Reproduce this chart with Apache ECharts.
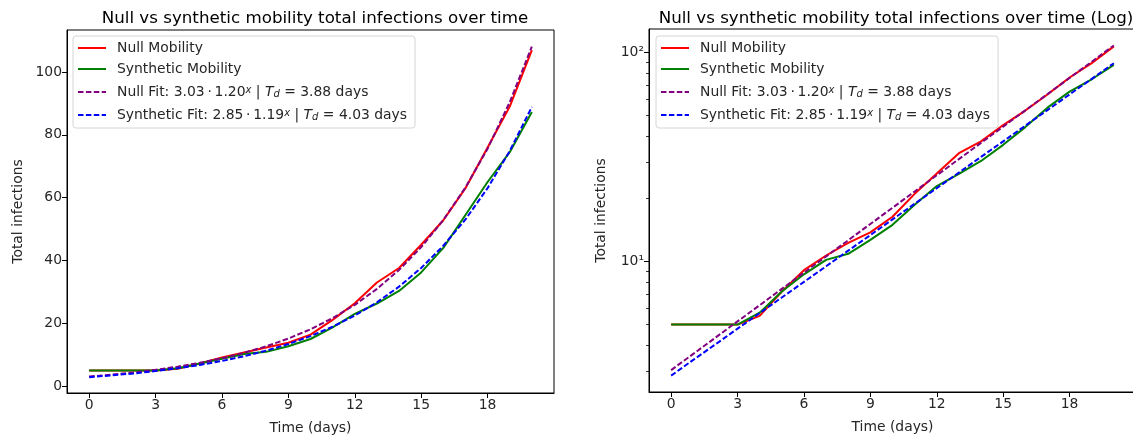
<!DOCTYPE html>
<html>

	<head>
		<meta charset="utf-8">
		<title>Null vs synthetic mobility total infections over time</title>
		<style>
			html, body { margin: 0; padding: 0; background: #fff; }
			#chart { width: 1133px; height: 440px; }
		</style>
	</head>

	<body>
		<div id="chart"></div>
	</body>
	<script src="https://cdn.jsdelivr.net/npm/echarts@6/dist/echarts.min.js"></script>
	<script>
		// days on the x axis
		var days = [0, 1, 2, 3, 4, 5, 6, 7, 8, 9, 10, 11, 12, 13, 14, 15, 16, 17, 18, 19, 20];
		// simulated totals
		var nullMobility = [5, 5, 5, 5, 5.5, 7.2, 9.1, 10.7, 12.3, 13.8, 16.4, 21.1, 26.4, 33, 37.6, 45, 52.8, 63, 76, 89, 107];
		var syntheticMobility = [5, 5, 5, 5, 5.7, 7.2, 8.7, 10.2, 10.9, 12.7, 15, 18.7, 23, 26.3, 30.3, 36.2, 44, 54.5, 65, 74.5, 87.3];
		// exponential fit curves
		var nullFit = [3.03, 3.62, 4.33, 5.18, 6.19, 7.41, 8.86, 10.59, 12.66, 15.14, 18.1, 21.64, 25.88, 30.94, 37, 44.24, 52.9, 63.25, 75.62, 90.42, 108.12];
		var syntheticFit = [2.85, 3.39, 4.02, 4.78, 5.67, 6.74, 8, 9.5, 11.29, 13.4, 15.92, 18.91, 22.46, 26.67, 31.68, 37.62, 44.69, 53.07, 63.04, 74.87, 88.92];
		// ticks
		var xTicks = [0, 3, 6, 9, 12, 15, 18];
		var yTicks = [0, 20, 40, 60, 80, 100];
		var logTicks = [10, 100];
		var logMinorTicks = [3, 4, 5, 6, 7, 8, 9, 20, 30, 40, 50, 60, 70, 80, 90];

		var FONT = 'DejaVu Sans';
		var seriesNames = ['Null Mobility', 'Synthetic Mobility', 'Null Fit', 'Synthetic Fit'];
		var legendText = {
			'Null Mobility': 'Null Mobility',
			'Synthetic Mobility': 'Synthetic Mobility',
			'Null Fit': 'Null Fit: 3.03\u2009·\u20091.20{sup|x} | {it|T}{sub|d} = 3.88 days',
			'Synthetic Fit': 'Synthetic Fit: 2.85\u2009·\u20091.19{sup|x} | {it|T}{sub|d} = 4.03 days'
		};

		function pairs(ys) {
			return days.map(function(d, i) {
				return [d, ys[i]];
			});
		}

		function makeSeries(grid, yIndex) {
			var list = [
				{ name: seriesNames[0], data: nullMobility, color: '#ff0000', dash: 'solid' },
				{ name: seriesNames[1], data: syntheticMobility, color: '#008000', dash: 'solid' },
				{ name: seriesNames[2], data: nullFit, color: '#800080', dash: [5.5, 2.4] },
				{ name: seriesNames[3], data: syntheticFit, color: '#0000ff', dash: [5.5, 2.4] }
			];
			return list.map(function(s) {
				return {
					type: 'line',
					name: s.name,
					xAxisIndex: grid,
					yAxisIndex: yIndex,
					data: pairs(s.data),
					showSymbol: false,
					symbol: 'none',
					silent: true,
					color: s.color,
					lineStyle: { color: s.color, width: 2, type: s.dash }
				};
			});
		}

		function makeLegend(left) {
			return {
				left: left,
				top: 36,
				orient: 'vertical',
				align: 'left',
				data: seriesNames,
				itemWidth: 28,
				itemHeight: 14,
				itemGap: 7,
				itemStyle: { opacity: 0 },
				padding: [5, 8, 6, 4],
				backgroundColor: '#fff',
				borderColor: '#d6d6d6',
				borderWidth: 1,
				borderRadius: 3,
				selectedMode: false,
				formatter: function(name) {
					return legendText[name];
				},
				textStyle: {
					fontFamily: FONT,
					fontSize: 13.9,
					color: '#262626',
					padding: [0, 0, 0, 6],
					rich: {
						sup: { fontFamily: FONT, fontSize: 10, fontStyle: 'italic', color: '#262626', verticalAlign: 'top', lineHeight: 12 },
						sub: { fontFamily: FONT, fontSize: 10, fontStyle: 'italic', color: '#262626', verticalAlign: 'bottom', lineHeight: 12, padding: [6, 0, 0, 0] },
						it: { fontFamily: FONT, fontSize: 13.9, fontStyle: 'italic', color: '#262626' }
					}
				}
			};
		}

		var labelStyle = { fontFamily: FONT, fontSize: 13.9, color: '#262626', margin: 5 };
		var tickStyle = { length: 5, lineStyle: { color: '#000', width: 1 } };
		var nameStyle = { fontFamily: FONT, fontSize: 13.9, color: '#262626' };

		function xAxis(grid) {
			return {
				type: 'value',
				gridIndex: grid,
				position: 'bottom',
				min: -1,
				max: 21,
				name: 'Time (days)',
				nameLocation: 'middle',
				nameGap: 28,
				nameTextStyle: nameStyle,
				axisLine: { onZero: false, lineStyle: { color: '#000', width: 1 } },
				axisTick: { customValues: xTicks, length: tickStyle.length, lineStyle: tickStyle.lineStyle },
				axisLabel: Object.assign({ customValues: xTicks }, labelStyle),
				splitLine: { show: false }
			};
		}

		var option = {
			backgroundColor: '#fff',
			animation: false,
			title: [{
				text: 'Null vs synthetic mobility total infections over time',
				left: 310,
				top: 5,
				textAlign: 'center',
				textStyle: { fontFamily: FONT, fontSize: 16.7, fontWeight: 'normal', color: '#000' }
			}, {
				text: 'Null vs synthetic mobility total infections over time (Log)',
				left: 891,
				top: 5,
				textAlign: 'center',
				textStyle: { fontFamily: FONT, fontSize: 16.7, fontWeight: 'normal', color: '#000' }
			}],
			legend: [makeLegend(73), makeLegend(656)],
			grid: [{
				left: 67, top: 30, width: 487, height: 363,
				outerBoundsMode: 'none',
				show: true, borderColor: '#000', borderWidth: 1
			}, {
				left: 649, top: 29, width: 487, height: 363,
				outerBoundsMode: 'none',
				show: true, borderColor: '#000', borderWidth: 1
			}],
			xAxis: [xAxis(0), xAxis(1)],
			yAxis: [{
				type: 'value',
				gridIndex: 0,
				position: 'left',
				min: -2.2,
				max: 113.4,
				name: 'Total infections',
				nameLocation: 'middle',
				nameGap: 42,
				nameTextStyle: nameStyle,
				axisLine: { show: true, onZero: false, lineStyle: { color: '#000', width: 1 } },
				axisTick: { show: true, customValues: yTicks, length: tickStyle.length, lineStyle: tickStyle.lineStyle },
				axisLabel: Object.assign({ customValues: yTicks }, labelStyle),
				splitLine: { show: false }
			}, {
				type: 'log',
				logBase: 10,
				gridIndex: 1,
				position: 'left',
				min: 2.38,
				max: 129.6,
				name: 'Total infections',
				nameLocation: 'middle',
				nameGap: 41,
				nameTextStyle: nameStyle,
				axisLine: { show: true, onZero: false, lineStyle: { color: '#000', width: 1 } },
				axisTick: { show: true, customValues: logTicks, length: tickStyle.length, lineStyle: tickStyle.lineStyle },
				axisLabel: Object.assign({
					customValues: logTicks,
					formatter: function(v) {
						return v === 10 ? '10¹' : '10²';
					}
				}, labelStyle),
				splitLine: { show: false }
			}, {
				// minor ticks of the log axis
				type: 'log',
				logBase: 10,
				gridIndex: 1,
				position: 'left',
				min: 2.38,
				max: 129.6,
				axisLine: { show: false, onZero: false },
				axisTick: { show: true, customValues: logMinorTicks, length: 3, lineStyle: { color: '#000', width: 0.8 } },
				axisLabel: { show: false },
				splitLine: { show: false }
			}],
			series: makeSeries(0, 0).concat(makeSeries(1, 1))
		};

		var chart = echarts.init(document.getElementById('chart'), null, { renderer: 'canvas' });
		chart.setOption(option);
	</script>
</html>
